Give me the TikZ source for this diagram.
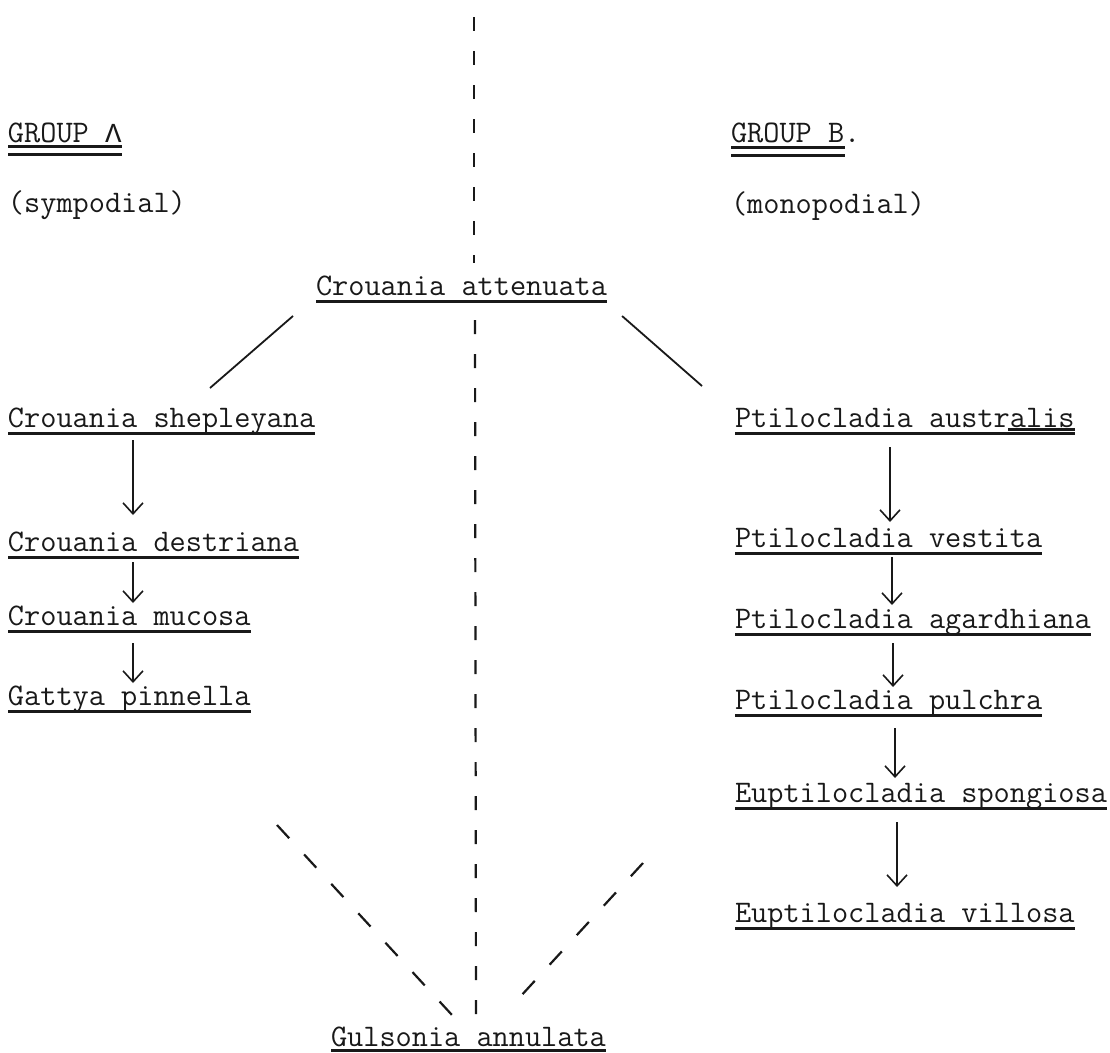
\documentclass[tikz,border=0pt]{standalone}
\usepackage{fontspec}
\newfontfamily\lambdafont{Liberation Mono}
\usetikzlibrary{arrows.meta,calc}
\definecolor{ink}{RGB}{25,25,25}
\begin{document}
\begin{tikzpicture}[x=1pt,y=-1pt,
  lbl/.style={inner sep=0pt, outer sep=0pt, anchor=base west, text=ink, font=\ttfamily\fontsize{31.4}{34}\selectfont\addfontfeature{FakeBold=1.2}},
  uline/.style={draw=ink, line width=3pt},
  conn/.style={draw=ink, line width=1.8pt},
  arr/.style={conn, -{Straight Barb[length=11pt,width=20pt,line width=1.6pt]}},
  divider/.style={draw=ink, line width=2.2pt, dash pattern=on 14pt off 20pt},
  ddiag/.style={draw=ink, line width=2.2pt, dash pattern=on 18pt off 22pt}]
\useasboundingbox (0,0) rectangle (1110,1052);
\fill[white] (0,0) rectangle (1110,1052);

% headings
\node[lbl] (ga) at (8,142) {GROUP {\lambdafont\fontsize{27.5}{30}\selectfont Λ}};
\node[lbl] (sym) at (8,212) {(sympodial)};
\node[lbl] (gb) at (731,142) {GROUP B.};
\node[lbl] (mono) at (731,213) {(monopodial)};

% species
\node[lbl] (att) at (316,295) {Crouania attenuata};
\node[lbl] (c1) at (8,427) {Crouania shepleyana};
\node[lbl] (c2) at (8,551) {Crouania destriana};
\node[lbl] (c3) at (8,625) {Crouania mucosa};
\node[lbl] (c4) at (8,705) {Gattya pinnella};
\node[lbl] (p1) at (735,427) {Ptilocladia australis};
\node[lbl] (p2) at (735,547) {Ptilocladia vestita};
\node[lbl] (p3) at (735,628) {Ptilocladia agardhiana};
\node[lbl] (p4) at (735,709) {Ptilocladia pulchra};
\node[lbl] (e1) at (735,802) {Euptilocladia spongiosa};
\node[lbl] (e2) at (735,922) {Euptilocladia villosa};
\node[lbl] (gul) at (331,1046) {Gulsonia annulata};

% underlines
\foreach \n in {att,c1,c2,c3,c4,p1,p2,p3,p4,e1,e2}
  \draw[uline] ($(\n.base west)+(0,6)$) -- ($(\n.base east)+(0,6)$);
\draw[uline] ($(gul.base west)+(0,4)$) -- ($(gul.base east)+(0,4)$);
\draw[uline] ($(p1.base west)+(273,2)$) -- ($(p1.base east)+(0,2)$);
\draw[uline] ($(ga.base west)+(0,4)$) -- ($(ga.base east)+(0,4)$);
\draw[uline] ($(ga.base west)+(0,12)$) -- ($(ga.base east)+(0,12)$);
\draw[uline] ($(gb.base west)+(0,5)$) -- ++(114,0);
\draw[uline] ($(gb.base west)+(0,13)$) -- ++(114,0);

% solid branches
\draw[conn] ($(att.base west)+(-23,21)$) -- ($(c1.base west)+(202,-39)$);
\draw[conn] ($(att.base east)+(15,21)$) -- ($(p1.base west)+(-33,-41)$);

% arrows, left column
\draw[arr] ($(c1.base west)+(125,13)$) -- ($(c2.base west)+(125,-36)$);
\draw[arr] ($(c2.base west)+(125,11)$) -- ($(c3.base west)+(125,-22)$);
\draw[arr] ($(c3.base west)+(125,18)$) -- ($(c4.base west)+(125,-22)$);

% arrows, right column
\draw[arr] ($(p1.base west)+(155,20)$) -- ($(p2.base west)+(155,-25)$);
\draw[arr] ($(p2.base west)+(157,10)$) -- ($(p3.base west)+(157,-23)$);
\draw[arr] ($(p3.base west)+(158,15)$) -- ($(p4.base west)+(158,-22)$);
\draw[arr] ($(p4.base west)+(160,19)$) -- ($(e1.base west)+(160,-24)$);
\draw[arr] ($(e1.base west)+(162,20)$) -- ($(e2.base west)+(162,-35)$);

% central dashed divider
\coordinate (vt) at (474,17);
\draw[divider] (vt) -- ($(att.base west)+(158,-32)$);
\draw[divider] ($(att.base west)+(159,25)$) -- ($(gul.base west)+(145,-24)$);

% dashed converging lines
\coordinate (dl) at (277,825);
\coordinate (dr) at (643,863);
\draw[ddiag] (dl) -- ($(gul.base west)+(121,-31)$);
\draw[ddiag] (dr) -- ($(gul.base west)+(177,-36)$);
\end{tikzpicture}
\end{document}
